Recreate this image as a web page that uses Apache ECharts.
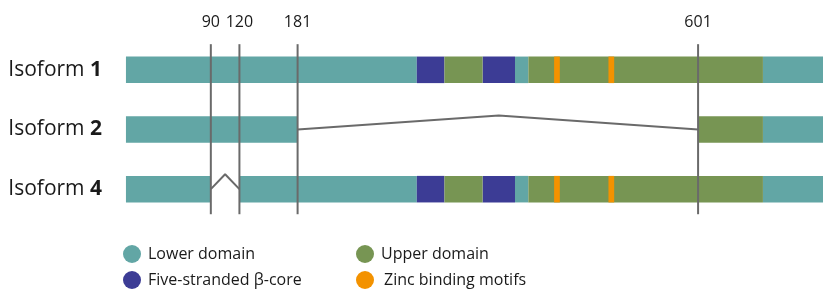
<!DOCTYPE html>
<html>
<head>
<meta charset="utf-8">
<script src="https://cdn.jsdelivr.net/npm/echarts@6/dist/echarts.min.js"></script>
<style>
  html, body { margin: 0; padding: 0; background: #fff; }
  #chart { width: 823px; height: 290px; }
</style>
</head>
<body>
<div id="chart"></div>
<script>
// rows: 1 = Isoform 1, 2 = Isoform 2, 3 = Isoform 4
const isoformLabels = ['1', '2', '4'];
const boundaryTicks = [90, 120, 181, 601];

// segments: [row, start residue, end residue]
const lowerSegs = [
  [1, 1, 306], [1, 409, 423], [1, 669, 732],
  [2, 1, 181], [2, 669, 732],
  [3, 1, 90], [3, 120, 306], [3, 409, 423], [3, 669, 732]
];
const coreSegs = [
  [1, 306, 335], [1, 375, 409],
  [3, 306, 335], [3, 375, 409]
];
const upperSegs = [
  [1, 335, 375], [1, 423, 669],
  [2, 601, 669],
  [3, 335, 375], [3, 423, 669]
];
const zincSegs = [
  [1, 450, 456], [1, 507, 513],
  [3, 450, 456], [3, 507, 513]
];

// splice connectors
const spliceIso2 = [[181, 2], [392, 1.765], [601, 2]];
const spliceIso4 = [[90, 3], [105, 2.75], [120, 3]];
const guideSpan = [0.57, 3.42];

const legendNames = ['Lower domain', 'Five-stranded β-core', 'Upper domain', 'Zinc binding motifs'];

const colors = {
  lower: '#62a6a5',
  core: '#3c3c95',
  upper: '#779553',
  zinc: '#f39200',
  guide: '#6a6a6a'
};

const chart = echarts.init(document.getElementById('chart'));

function renderBar(params, api) {
  const row = api.value(0);
  const p0 = api.coord([api.value(1), row]);
  const p1 = api.coord([api.value(2), row]);
  const h = api.size([0, 1])[1] * 0.445;
  return {
    type: 'rect',
    shape: { x: p0[0], y: p0[1] - h / 2, width: p1[0] - p0[0], height: h },
    style: { fill: api.visual('color') }
  };
}

function barSeries(name, data, color) {
  return {
    name: name,
    type: 'custom',
    renderItem: renderBar,
    itemStyle: { color: color },
    encode: { x: [1, 2], y: 0 },
    data: data,
    silent: true,
    z: 2
  };
}

// one legend per item so the two columns line up
const legendPos = [[123, 245], [123, 271], [356, 245], [356, 271]];
const legends = legendNames.map((name, i) => ({
  left: legendPos[i][0],
  top: legendPos[i][1],
  icon: 'circle',
  itemWidth: 18,
  itemHeight: 18,
  padding: 0,
  selectedMode: false,
  textStyle: {
    fontSize: 16,
    color: '#1a1a1a',
    fontFamily: 'Open Sans',
    padding: [0, 0, 0, i === 3 ? 5 : 2]
  },
  data: [name]
}));

const guideSeries = boundaryTicks.map(x => ({
  type: 'line',
  data: [[x, guideSpan[0]], [x, guideSpan[1]]],
  symbol: 'none',
  lineStyle: { color: colors.guide, width: 2 },
  silent: true,
  z: 5
}));

const option = {
  animation: false,
  textStyle: { fontFamily: 'Open Sans' },
  grid: { left: 125, right: 0, top: 40, bottom: 71 },
  xAxis: {
    type: 'value',
    position: 'top',
    min: 0,
    max: 732,
    axisLine: { show: false },
    axisTick: { show: false },
    splitLine: { show: false },
    axisLabel: {
      customValues: boundaryTicks,
      margin: 10,
      fontSize: 16,
      color: '#1a1a1a',
      fontFamily: 'Open Sans'
    }
  },
  yAxis: {
    type: 'value',
    inverse: true,
    min: 0.5,
    max: 3.5,
    axisLine: { show: false },
    axisTick: { show: false },
    splitLine: { show: false },
    axisLabel: {
      customValues: [1, 2, 3],
      margin: 23,
      color: '#1a1a1a',
      fontSize: 21,
      fontFamily: 'Open Sans',
      formatter: v => 'Isoform {b|' + isoformLabels[v - 1] + '}',
      rich: {
        b: { fontWeight: 'bold', fontSize: 21, color: '#1a1a1a', fontFamily: 'Open Sans' }
      }
    }
  },
  legend: legends,
  series: [
    barSeries(legendNames[0], lowerSegs, colors.lower),
    barSeries(legendNames[1], coreSegs, colors.core),
    barSeries(legendNames[2], upperSegs, colors.upper),
    barSeries(legendNames[3], zincSegs, colors.zinc),
    {
      type: 'line',
      data: spliceIso2,
      symbol: 'none',
      lineStyle: { color: colors.guide, width: 2 },
      silent: true,
      z: 4
    },
    {
      type: 'line',
      data: spliceIso4,
      symbol: 'none',
      lineStyle: { color: colors.guide, width: 2 },
      silent: true,
      z: 4
    }
  ].concat(guideSeries)
};

chart.setOption(option);
</script>
</body>
</html>
